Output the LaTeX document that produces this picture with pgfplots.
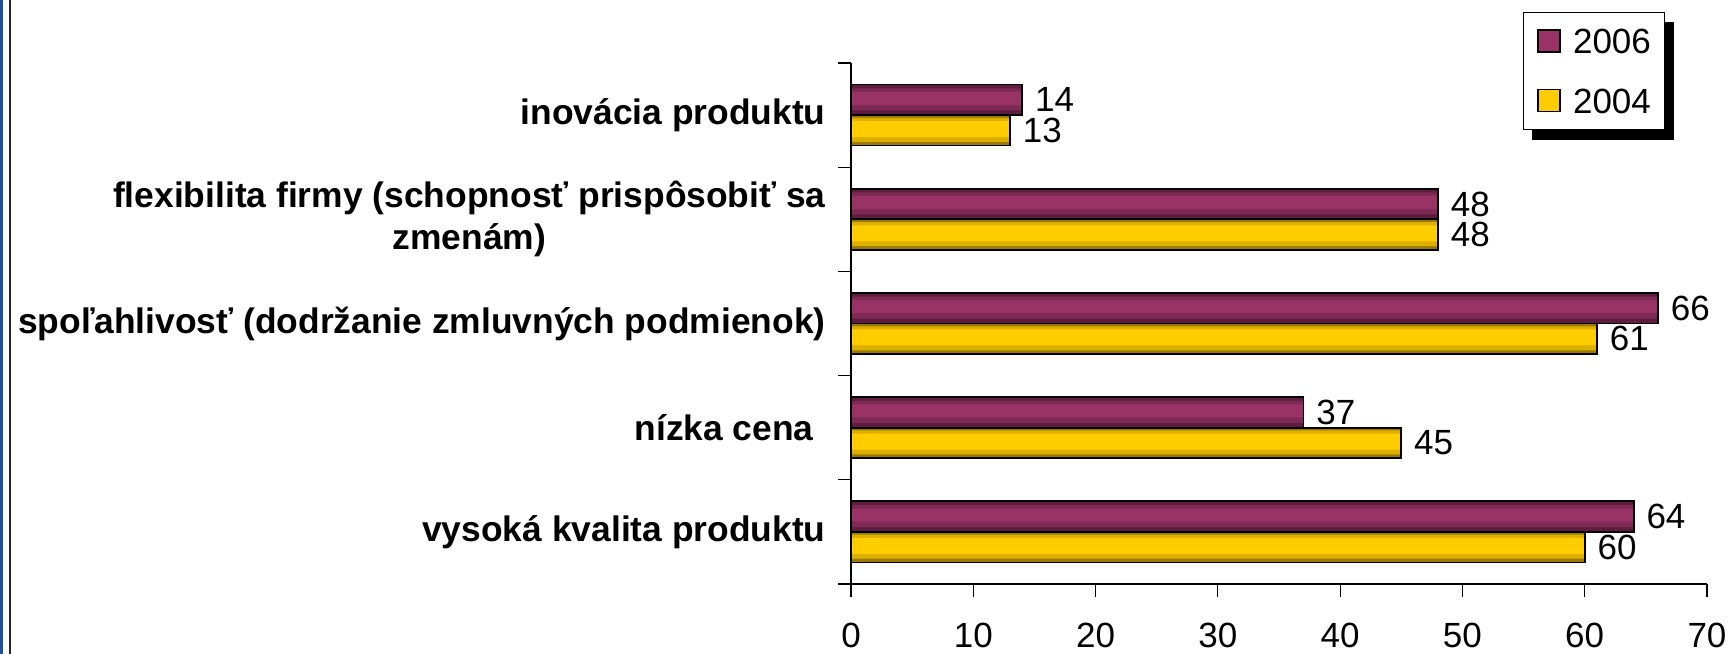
\documentclass[border=0pt]{standalone}
\usepackage{pgfplots}
\pgfplotsset{compat=1.18}
\usepackage{pgfplotstable}
\usepackage{fontspec}
\setmainfont{Liberation Sans}
\usetikzlibrary{backgrounds}

\definecolor{plum}{HTML}{993366}
\definecolor{plumA}{HTML}{5E1D3F}
\definecolor{plumB}{HTML}{7E2A54}
\definecolor{gold}{HTML}{FFCC00}
\definecolor{goldA}{HTML}{9A7B00}
\definecolor{goldB}{HTML}{DDB000}
\definecolor{frameblue}{HTML}{2050A0}

% x = percent, y = category (0 = bottom)
\pgfplotstableread{
x  y
64 0
37 1
66 2
48 3
14 4
}\yearsix
\pgfplotstableread{
x  y
60 0
45 1
61 2
48 3
13 4
}\yearfour

\begin{document}
\begin{tikzpicture}
  \path[use as bounding box] (0,0) rectangle (866.5bp,327bp);
  \fill[frameblue] (0,0) rectangle (1.7bp,327bp);
  \draw[black!85, line width=0.8bp] (5bp,0) -- (5bp,327bp);
  \begin{axis}[
      at={(425.5bp,35bp)}, anchor=south west,
      scale only axis,
      width=428bp, height=260.5bp,
      xbar, bar width=15.25bp,
      xmin=0, xmax=70,
      ymin=-0.5, ymax=4.5,
      axis lines=left,
      axis line style={-, line width=0.6bp},
      xtick={0,10,...,70},
      ytick={0,1,2,3,4},
      yticklabels={vysoká kvalita produktu, nízka cena\hspace{6bp}, {spoľahlivosť (dodržanie zmluvných podmienok)}, {flexibilita firmy (schopnosť prispôsobiť sa\\zmenám)}, inovácia produktu},
      minor ytick={-0.5,0.5,1.5,2.5,3.5,4.5},
      major y tick style={draw=none},
      tick align=outside,
      major tick length=6.5bp,
      minor tick length=6.5bp,
      tick style={black, line width=0.6bp},
      /pgf/number format/assume math mode=true,
      xticklabel style={font=\fontsize{17.5bp}{21bp}\selectfont, anchor=north, inner sep=0pt, yshift=-13bp},
      yticklabel style={font=\bfseries\fontsize{17.7bp}{21bp}\selectfont, align=center, anchor=east, inner sep=0pt, xshift=-6bp},
      every node near coord/.append style={font=\fontsize{17.5bp}{19bp}\selectfont, inner sep=0pt, anchor=west, xshift=6bp, black},
      every axis plot post/.append style={legend image code/.code={\draw[##1, draw=black, line width=0.8bp] (0bp,-5.5bp) rectangle (11bp,5.5bp);}},
      legend style={name=leg, at={(0.785,1.098)}, anchor=north west,
        draw=black, line width=0.5bp, fill=white,
        font=\fontsize{17.5bp}{21bp}\selectfont,
        inner xsep=7bp, inner ysep=8bp,
        row sep=17.3bp,
        nodes={inner sep=0pt, text height=12.5bp, text depth=0pt},
        /tikz/every odd column/.style={column sep=6bp}},
      legend cell align=left,
    ]
    % base bars in the dark edge colour
    \addplot[forget plot, draw=none, fill=plumA, bar shift=7.625bp] table {\yearsix};
    \addplot[forget plot, draw=none, fill=goldA, bar shift=-7.625bp] table {\yearfour};
    % lighter bands to imitate the gradient; the lightest ones carry the legend
    \addplot[forget plot, draw=none, fill=plumB, bar width=11bp, bar shift=7.9bp] table {\yearsix};
    \addplot[draw=none, fill=plum, bar width=6.5bp, bar shift=8.4bp] table {\yearsix};
    \addplot[forget plot, draw=none, fill=goldB, bar width=12bp, bar shift=-7.4bp] table {\yearfour};
    \addplot[draw=none, fill=gold, bar width=8bp, bar shift=-7.0bp] table {\yearfour};
    % outlines and value labels
    \addplot[forget plot, draw=black, fill=none, line width=0.9bp, bar shift=7.625bp, nodes near coords] table {\yearsix};
    \addplot[forget plot, draw=black, fill=none, line width=0.9bp, bar shift=-7.625bp, nodes near coords] table {\yearfour};
    \legend{2006,2004}
  \end{axis}
  \begin{scope}[on background layer]
    \fill[black] ([shift={(4.5bp,-5bp)}]leg.south west) rectangle ([shift={(4.5bp,-5bp)}]leg.north east);
  \end{scope}
\end{tikzpicture}
\end{document}
